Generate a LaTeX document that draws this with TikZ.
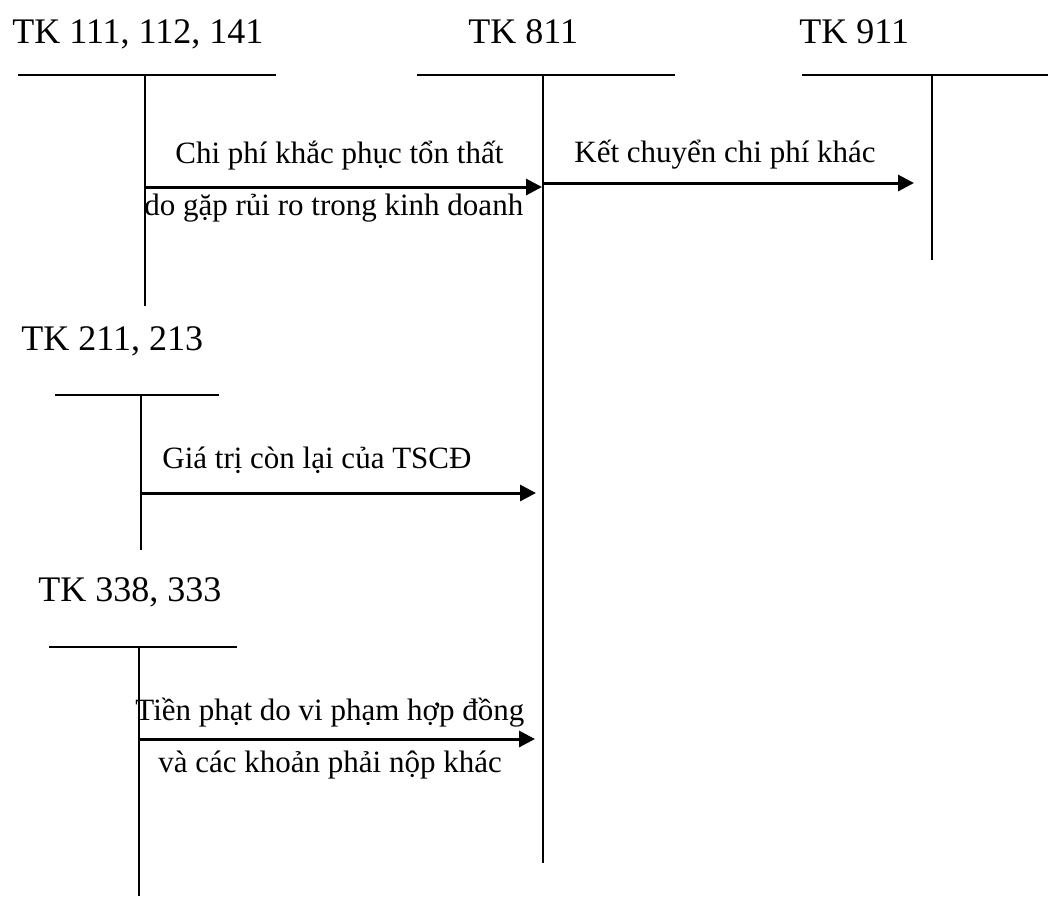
\documentclass[tikz,border=0pt]{standalone}
\usepackage{fontspec}
\setmainfont{Liberation Serif}
\usepackage{tikz}
\usetikzlibrary{arrows.meta,positioning}

\begin{document}
\begin{tikzpicture}[x=0.5pt,y=-0.5pt,
  acct/.style={font=\fontsize{18}{22}\selectfont,anchor=base west,inner sep=0pt},
  lbl/.style={font=\fontsize{15.5}{19}\selectfont,anchor=base west,inner sep=0pt},
  tline/.style={line width=1.1pt},
  flow/.style={-{Triangle[length=8pt,width=8pt]},line width=1.5pt}]
  \useasboundingbox (0,0) rectangle (1048,896);
  % account titles
  \node[acct] (tk111) at (12,43) {TK 111, 112, 141};
  \node[acct] (tk811) at (468,43) {TK 811};
  \node[acct] (tk911) at (799,43) {TK 911};
  \node[acct] (tk211) at (21,350) {TK 211, 213};
  \node[acct] (tk338) at (38,601) {TK 338, 333};
  % T accounts
  \coordinate (c111) at (145,75);
  \coordinate (c811) at (543,75);
  \coordinate (c911) at (932,75);
  \coordinate (c211) at (141,395);
  \coordinate (c338) at (139,647);
  \draw[tline] (18,75) -- (276,75);
  \draw[tline] (c111) -- (145,306);
  \draw[tline] (417,75) -- (675,75);
  \draw[tline] (c811) -- (543,863);
  \draw[tline] (802,75) -- (1048,75);
  \draw[tline] (c911) -- (932,260);
  \draw[tline] (55,395) -- (219,395);
  \draw[tline] (c211) -- (141,550);
  \draw[tline] (49,647) -- (237,647);
  \draw[tline] (c338) -- (139,896);
  % entries
  \coordinate (s1) at (145,187);
  \coordinate (e1) at (542,187);
  \coordinate (s2) at (543,183);
  \coordinate (e2) at (914,183);
  \coordinate (s3) at (141,493);
  \coordinate (e3) at (536,493);
  \coordinate (s4) at (139,739);
  \coordinate (e4) at (535,739);
  \draw[flow] (s1) -- (e1);
  \draw[flow] (s2) -- (e2);
  \draw[flow] (s3) -- (e3);
  \draw[flow] (s4) -- (e4);
  \node[lbl] (l1a) at (175,163) {Chi phí khắc phục tổn thất};
  \node[lbl] (l1b) at (144,215) {do gặp rủi ro trong kinh doanh};
  \node[lbl] (l2) at (574,162) {Kết chuyển chi phí khác};
  \node[lbl] (l3) at (162,468) {Giá trị còn lại của TSCĐ};
  \node[lbl] (l4a) at (135,720) {Tiền phạt do vi phạm hợp đồng};
  \node[lbl] (l4b) at (158,772) {và các khoản phải nộp khác};
\end{tikzpicture}
\end{document}
